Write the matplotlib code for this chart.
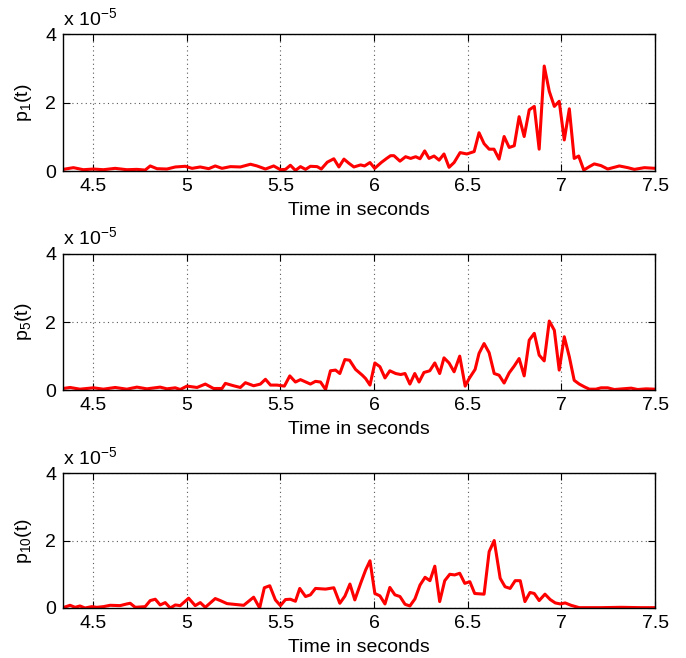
import numpy as np
import matplotlib
matplotlib.use("Agg")
import matplotlib.pyplot as plt

plt.rcParams['font.family'] = ['Liberation Sans', 'DejaVu Sans']
plt.rcParams['mathtext.default'] = 'regular'
plt.rcParams['font.size'] = 14

# values are in units of 1e-5
t1 = [4.34, 4.395, 4.448, 4.502, 4.555, 4.618, 4.680, 4.734, 4.778, 4.805,
      4.841, 4.894, 4.939, 4.992, 5.028, 5.072, 5.117, 5.152, 5.188, 5.233,
      5.286, 5.340, 5.375, 5.420, 5.464, 5.500, 5.527, 5.553, 5.580, 5.607,
      5.634, 5.660, 5.696, 5.718, 5.750, 5.785, 5.812, 5.839, 5.865, 5.892,
      5.928, 5.949, 5.978, 6.003, 6.038, 6.067, 6.088, 6.106, 6.138, 6.168,
      6.195, 6.222, 6.245, 6.270, 6.293, 6.320, 6.347, 6.373, 6.400, 6.427,
      6.459, 6.495, 6.534, 6.560, 6.587, 6.614, 6.640, 6.667, 6.694, 6.721,
      6.748, 6.774, 6.801, 6.828, 6.855, 6.881, 6.908, 6.935, 6.962, 6.988,
      7.015, 7.042, 7.068, 7.092, 7.119, 7.149, 7.175, 7.211, 7.247, 7.309,
      7.354, 7.389, 7.443, 7.500]
p1 = [0.05, 0.10, 0.04, 0.06, 0.04, 0.08, 0.04, 0.05, 0.03, 0.15,
      0.07, 0.06, 0.12, 0.14, 0.08, 0.12, 0.07, 0.15, 0.08, 0.13,
      0.12, 0.20, 0.15, 0.06, 0.15, 0.04, 0.05, 0.17, 0.02, 0.13,
      0.05, 0.14, 0.13, 0.06, 0.26, 0.36, 0.12, 0.35, 0.23, 0.12,
      0.18, 0.15, 0.25, 0.08, 0.25, 0.37, 0.45, 0.45, 0.29, 0.42,
      0.37, 0.42, 0.36, 0.59, 0.37, 0.44, 0.32, 0.50, 0.11, 0.25,
      0.54, 0.50, 0.57, 1.12, 0.80, 0.64, 0.64, 0.35, 1.01, 0.69,
      0.74, 1.59, 1.01, 1.79, 1.89, 0.64, 3.07, 2.33, 1.89, 2.04,
      0.91, 1.82, 0.37, 0.44, 0.03, 0.13, 0.21, 0.16, 0.06, 0.15,
      0.10, 0.05, 0.10, 0.08]

t5 = [4.340, 4.377, 4.430, 4.502, 4.555, 4.618, 4.680, 4.734, 4.787, 4.858,
      4.894, 4.939, 4.965, 5.001, 5.055, 5.099, 5.143, 5.188, 5.206, 5.250,
      5.286, 5.313, 5.357, 5.393, 5.420, 5.447, 5.482, 5.521, 5.550, 5.580,
      5.607, 5.660, 5.687, 5.714, 5.741, 5.767, 5.794, 5.817, 5.844, 5.869,
      5.901, 5.937, 5.955, 5.978, 6.004, 6.031, 6.058, 6.084, 6.115, 6.142,
      6.165, 6.191, 6.217, 6.240, 6.266, 6.297, 6.324, 6.350, 6.373, 6.400,
      6.427, 6.457, 6.486, 6.507, 6.539, 6.560, 6.587, 6.614, 6.641, 6.667,
      6.694, 6.721, 6.748, 6.774, 6.801, 6.828, 6.855, 6.881, 6.908, 6.935,
      6.962, 6.988, 7.015, 7.042, 7.068, 7.095, 7.122, 7.149, 7.184, 7.211,
      7.247, 7.282, 7.327, 7.372, 7.407, 7.452, 7.500]
p5 = [0.05, 0.08, 0.03, 0.07, 0.03, 0.08, 0.03, 0.09, 0.04, 0.09,
      0.04, 0.07, 0.02, 0.12, 0.08, 0.18, 0.05, 0.05, 0.20, 0.13,
      0.08, 0.22, 0.13, 0.18, 0.32, 0.15, 0.15, 0.12, 0.42, 0.24,
      0.31, 0.18, 0.26, 0.24, 0.02, 0.57, 0.59, 0.49, 0.90, 0.88,
      0.61, 0.44, 0.34, 0.15, 0.80, 0.69, 0.36, 0.57, 0.49, 0.46,
      0.49, 0.18, 0.49, 0.24, 0.52, 0.57, 0.80, 0.49, 0.95, 0.80,
      0.54, 1.00, 0.12, 0.34, 0.61, 1.08, 1.37, 1.10, 0.49, 0.44,
      0.21, 0.51, 0.71, 0.93, 0.42, 1.47, 1.67, 1.03, 0.86, 2.03,
      1.76, 0.59, 1.57, 0.98, 0.29, 0.18, 0.10, 0.03, 0.03, 0.07,
      0.07, 0.02, 0.04, 0.06, 0.02, 0.04, 0.03]

t10 = [4.340, 4.377, 4.404, 4.430, 4.457, 4.493, 4.520, 4.555, 4.591, 4.644,
       4.680, 4.698, 4.725, 4.778, 4.805, 4.832, 4.858, 4.885, 4.912, 4.939,
       4.965, 5.010, 5.045, 5.072, 5.099, 5.152, 5.179, 5.215, 5.250, 5.304,
       5.357, 5.389, 5.414, 5.443, 5.473, 5.500, 5.527, 5.553, 5.580, 5.603,
       5.634, 5.660, 5.687, 5.741, 5.785, 5.817, 5.844, 5.871, 5.897, 5.928,
       5.955, 5.978, 6.004, 6.031, 6.058, 6.084, 6.111, 6.138, 6.165, 6.191,
       6.218, 6.245, 6.272, 6.298, 6.324, 6.350, 6.377, 6.404, 6.430, 6.457,
       6.484, 6.511, 6.537, 6.587, 6.614, 6.641, 6.673, 6.699, 6.726, 6.753,
       6.780, 6.805, 6.832, 6.855, 6.881, 6.912, 6.940, 6.967, 6.994, 7.020,
       7.051, 7.095, 7.211, 7.318, 7.425, 7.500]
p10 = [0.01, 0.08, 0.02, 0.06, 0.00, 0.04, 0.02, 0.04, 0.08, 0.07,
       0.12, 0.14, 0.02, 0.04, 0.22, 0.26, 0.09, 0.16, 0.00, 0.09,
       0.07, 0.29, 0.07, 0.16, 0.02, 0.28, 0.22, 0.13, 0.11, 0.08,
       0.32, 0.00, 0.60, 0.66, 0.24, 0.07, 0.25, 0.26, 0.20, 0.58,
       0.34, 0.39, 0.58, 0.56, 0.60, 0.14, 0.35, 0.71, 0.24, 0.73,
       1.13, 1.40, 0.43, 0.36, 0.12, 0.61, 0.39, 0.34, 0.11, 0.06,
       0.27, 0.68, 0.91, 0.81, 1.24, 0.19, 0.81, 1.00, 0.98, 1.03,
       0.73, 0.78, 0.43, 0.41, 1.67, 2.00, 0.88, 0.63, 0.58, 0.81,
       0.81, 0.19, 0.46, 0.43, 0.22, 0.41, 0.25, 0.15, 0.12, 0.15,
       0.08, 0.01, 0.01, 0.02, 0.01, 0.01]

series = [(t1, p1, 'p$_{1}$(t)'), (t5, p5, 'p$_{5}$(t)'), (t10, p10, 'p$_{10}$(t)')]
xticks = [4.5, 5, 5.5, 6, 6.5, 7, 7.5]
yticks = [0, 2, 4]

fig = plt.figure(figsize=(6.86, 6.58), dpi=100)
boxes = [(0.092, 0.740, 0.863, 0.208), (0.092, 0.407, 0.863, 0.207), (0.092, 0.076, 0.863, 0.205)]

for (t, p, lab), box in zip(series, boxes):
    ax = fig.add_axes(box)
    ax.plot(t, p, color='red', lw=2.2)
    ax.set_xlim(4.34, 7.5)
    ax.set_ylim(0, 4)
    ax.set_xticks(xticks)
    ax.set_xticklabels(['4.5', '5', '5.5', '6', '6.5', '7', '7.5'])
    ax.set_yticks(yticks)
    ax.grid(True, color='0.35', linestyle=(0, (1, 3)), lw=0.8)
    ax.tick_params(direction='in', top=True, right=True, length=5, width=0.8, pad=5)
    for s in ax.spines.values():
        s.set_linewidth(1.0)
    ax.set_xlabel('Time in seconds', labelpad=5)
    ax.set_ylabel(lab, labelpad=8)
    ax.text(0, 1.04, 'x 10$^{-5}$', transform=ax.transAxes, ha='left', va='bottom')

fig.savefig('out.png', dpi=100)
